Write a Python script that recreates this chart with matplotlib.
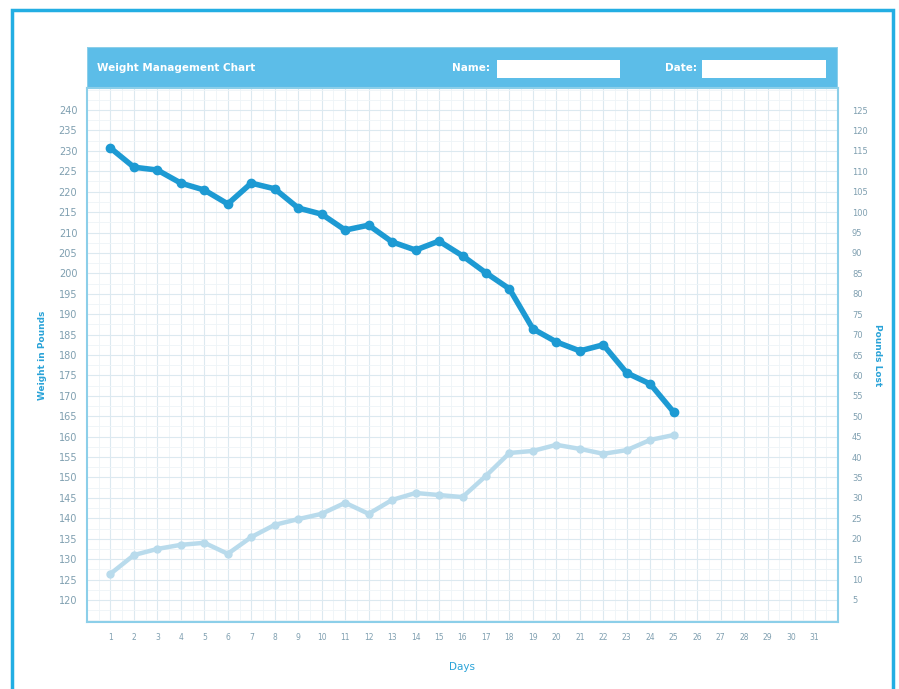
import numpy as np
import matplotlib.pyplot as plt
from matplotlib.patches import Rectangle

# chart data
days = list(range(1, 26))
weight = [230.7, 226.0, 225.3, 222.1, 220.4, 217.0, 222.1, 220.7, 216.0, 214.5,
          210.6, 211.8, 207.7, 205.7, 207.9, 204.3, 200.1, 196.2, 186.4, 183.2,
          181.0, 182.5, 175.6, 172.9, 166.0]
lost = [11.4, 16.0, 17.5, 18.5, 19.0, 16.3, 20.4, 23.4, 24.8, 26.1,
        28.8, 26.1, 29.5, 31.2, 30.7, 30.2, 35.4, 41.0, 41.5, 43.0,
        42.0, 40.8, 41.7, 44.2, 45.4]
day_ticks = list(range(1, 32))
weight_ticks = list(range(120, 241, 5))
lost_ticks = list(range(5, 126, 5))

dark = '#1d9ad3'
light = '#b9dbec'
frame = '#23aee3'
label_col = '#7f9fb0'

fig = plt.figure(figsize=(8.99, 6.89), dpi=100)

# outer cyan frame
fig.patches.append(Rectangle((12 / 899, -0.02), 881 / 899, 1 - 10 / 689 + 0.02,
                             transform=fig.transFigure, fill=False,
                             edgecolor=frame, linewidth=2.5))

ax = fig.add_axes([87 / 899, 1 - 622 / 689, 751 / 899, 534 / 689])
ax.set_xlim(0, 32)
ax.set_ylim(114.6, 245.4)
ax.set_xticks(day_ticks)
ax.set_xticks(np.arange(0, 32.1, 0.5), minor=True)
ax.set_yticks(weight_ticks)
ax.set_yticks(np.arange(115, 246, 2.5), minor=True)
ax.grid(which='major', color='#dce9f0', linewidth=0.8)
ax.grid(which='minor', color='#eef4f7', linewidth=0.6)
ax.set_axisbelow(True)
ax.tick_params(which='both', length=0)
ax.tick_params(axis='x', labelsize=5.5, labelcolor=label_col, pad=8)
ax.tick_params(axis='y', labelsize=7, labelcolor=label_col, pad=7)
for s in ax.spines.values():
    s.set_color('#8ccfe9')
    s.set_linewidth(1.5)
ax.set_xlabel('Days', fontsize=7.5, color='#2aa3d8', labelpad=14)
ax.set_ylabel('Weight in Pounds', fontsize=6.5, color='#2aa3d8', labelpad=8,
              fontweight='bold')

ax2 = ax.twinx()
ax2.set_ylim(-0.4, 130.4)
ax2.set_yticks(lost_ticks)
ax2.tick_params(which='both', length=0, labelsize=6, labelcolor=label_col, pad=10)
for s in ax2.spines.values():
    s.set_visible(False)
ax2.set_ylabel('Pounds Lost', fontsize=6.5, color='#2aa3d8', rotation=270,
               labelpad=10, fontweight='bold')

ax.plot(days, weight, color=dark, linewidth=4, marker='o', markersize=6,
        markeredgecolor=dark, solid_joinstyle='round', zorder=4)
ax2.plot(days, lost, color=light, linewidth=3.2, marker='o', markersize=5,
         markeredgecolor=light, solid_joinstyle='round', zorder=3)

# header band
hd = fig.add_axes([87 / 899, 1 - 88 / 689, 751 / 899, 41 / 689])
hd.set_xlim(0, 751)
hd.set_ylim(0, 41)
hd.axis('off')
hd.add_patch(Rectangle((0, 0), 751, 41, facecolor='#5cbde8', edgecolor='#8ccfe9',
                       linewidth=1.5))
hd.text(10, 20, 'Weight Management Chart', color='white', fontsize=7.5,
        fontweight='bold', va='center')
hd.text(403, 20, 'Name:', color='white', fontsize=7.5, fontweight='bold',
        va='center', ha='right')
hd.add_patch(Rectangle((410, 10), 123, 18, facecolor='white', edgecolor='none'))
hd.text(610, 20, 'Date:', color='white', fontsize=7.5, fontweight='bold',
        va='center', ha='right')
hd.add_patch(Rectangle((615, 10), 124, 18, facecolor='white', edgecolor='none'))

fig.savefig('out.png', dpi=100)
